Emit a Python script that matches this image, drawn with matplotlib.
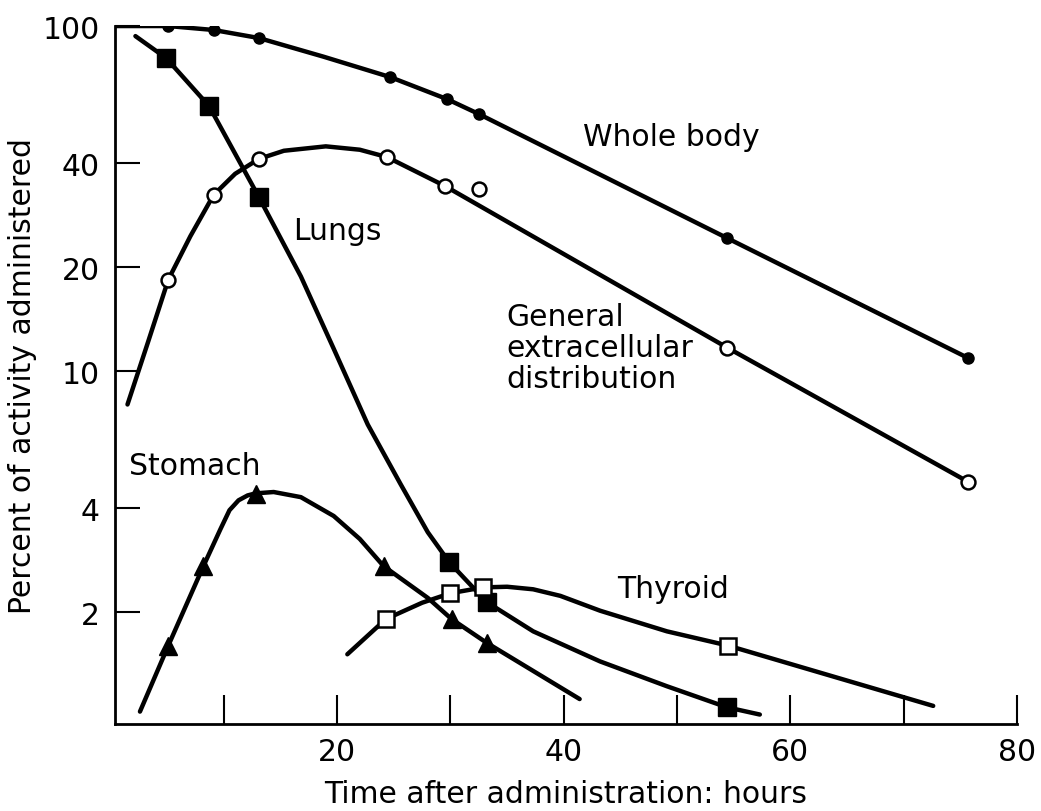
import matplotlib
matplotlib.use("Agg")
import matplotlib.pyplot as plt

# hours after administration / percent of activity
# measured points (markers)
whole_t = [5.1, 9.1, 13.1, 24.7, 29.7, 32.5, 54.4, 75.7]
whole_v = [100, 97.4, 92.3, 71.1, 61.4, 55.6, 24.3, 10.9]

general_t = [5.1, 9.1, 13.1, 24.4, 29.5, 32.5, 54.4, 75.7]
general_v = [18.4, 32.4, 41.2, 41.7, 34.4, 33.7, 11.7, 4.77]

lungs_t = [4.9, 8.7, 13.1, 29.9, 33.2, 54.4]
lungs_v = [80.8, 58.6, 31.9, 2.79, 2.14, 1.06]

stomach_t = [5.1, 8.2, 12.8, 24.1, 30.1, 33.2]
stomach_v = [1.60, 2.72, 4.40, 2.72, 1.91, 1.63]

thyroid_t = [24.3, 30.0, 32.9, 54.5]
thyroid_v = [1.91, 2.27, 2.36, 1.60]

# hand-drawn curves
whole_curve_t = [0.4, 5.1, 9.1, 13.1, 18.8, 24.7, 29.7, 32.5, 54.4, 75.7]
whole_curve_v = [100, 100, 97.4, 92.3, 81.5, 71.1, 61.4, 55.6, 24.3, 10.9]

general_curve_t = [1.5, 3.3, 5.1, 7.05, 9.1, 11.0, 13.1, 15.3, 19.0, 22.0, 24.4, 29.5, 54.4, 75.7]
general_curve_v = [8.0, 12.1, 18.4, 24.6, 32.4, 37.3, 41.2, 43.5, 44.8, 43.8, 41.7, 34.4, 11.7, 4.77]

lungs_curve_t = [2.2, 4.9, 8.7, 13.1, 16.8, 19.7, 22.7, 25.6, 28.0, 29.9, 33.2, 37.3, 43.2, 49.1, 54.4, 57.3]
lungs_curve_v = [93.5, 80.8, 58.6, 31.9, 18.8, 11.6, 7.0, 4.7, 3.41, 2.79, 2.14, 1.76, 1.44, 1.22, 1.06, 1.01]

stomach_curve_t = [2.6, 5.1, 8.2, 9.7, 10.5, 11.3, 12.1, 12.8, 14.4, 16.8, 19.7, 22.0, 24.1, 28.0, 30.1, 33.2, 41.4]
stomach_curve_v = [1.03, 1.60, 2.72, 3.48, 3.95, 4.22, 4.36, 4.42, 4.46, 4.31, 3.80, 3.26, 2.72, 2.20, 1.91, 1.63, 1.12]

thyroid_curve_t = [20.9, 24.3, 27.5, 30.0, 32.9, 35.0, 37.3, 39.7, 43.2, 49.1, 54.5, 72.6]
thyroid_curve_v = [1.51, 1.91, 2.13, 2.27, 2.36, 2.37, 2.33, 2.23, 2.02, 1.76, 1.60, 1.07]

ytick_vals = [2, 4, 10, 20, 40, 100]
xtick_major = [20, 40, 60, 80]
xtick_minor = [10, 30, 50, 70]

plt.rcParams['font.family'] = ['DejaVu Sans']
fs = 21.5

fig = plt.figure(figsize=(10.41, 8.12), dpi=100)
ax = fig.add_axes([0.1105, 0.1071, 0.8665, 0.8596])

lw = 3.2
for ct, cv in [(whole_curve_t, whole_curve_v), (general_curve_t, general_curve_v),
               (lungs_curve_t, lungs_curve_v), (stomach_curve_t, stomach_curve_v),
               (thyroid_curve_t, thyroid_curve_v)]:
    ax.plot(ct, cv, color='black', lw=lw, solid_capstyle='round', solid_joinstyle='round', zorder=2)

ax.plot(whole_t, whole_v, 'o', color='black', ms=8, zorder=3)
ax.plot(general_t, general_v, 'o', mfc='white', mec='black', mew=1.8, ms=10, zorder=3)
ax.plot(lungs_t, lungs_v, 's', color='black', ms=12.5, zorder=3)
ax.plot(stomach_t, stomach_v, '^', color='black', ms=13, zorder=3)
ax.plot(thyroid_t, thyroid_v, 's', mfc='white', mec='black', mew=1.8, ms=11, zorder=3)

ax.set_yscale('log')
ax.set_ylim(0.948, 100)
ax.set_xlim(0.4, 80)

ax.set_yticks(ytick_vals)
ax.set_yticklabels([str(v) for v in ytick_vals])
ax.yaxis.set_minor_locator(matplotlib.ticker.NullLocator())
ax.set_xticks(xtick_major)
ax.set_xticks(xtick_minor, minor=True)
ax.set_xticklabels([str(v) for v in xtick_major])

ax.tick_params(axis='y', which='both', direction='in', length=18, width=1.5, pad=11, labelsize=fs)
ax.tick_params(axis='x', which='both', direction='in', length=21, width=1.5, pad=9, labelsize=fs)

for s in ['top', 'right']:
    ax.spines[s].set_visible(False)
for s in ['left', 'bottom']:
    ax.spines[s].set_linewidth(2)

ax.set_xlabel('Time after administration: hours', fontsize=fs, labelpad=10)
ax.set_ylabel('Percent of activity administered', fontsize=fs, labelpad=4)

ax.text(41.7, 48.0, 'Whole body', fontsize=fs, va='center', ha='left')
ax.text(16.1, 25.5, 'Lungs', fontsize=fs, va='center', ha='left')
ax.text(34.9, 11.7, 'General\nextracellular\ndistribution', fontsize=fs,
        va='center', ha='left', linespacing=1.1)
ax.text(1.6, 5.31, 'Stomach', fontsize=fs, va='center', ha='left')
ax.text(44.7, 2.35, 'Thyroid', fontsize=fs, va='center', ha='left')

fig.savefig('out.png', dpi=100)
